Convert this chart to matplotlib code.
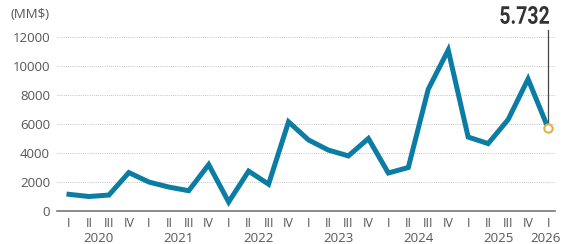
import matplotlib.pyplot as plt
import matplotlib.transforms as mtransforms
from matplotlib.textpath import TextPath
from matplotlib.patches import PathPatch
from matplotlib.font_manager import FontProperties

quarters = ['I', 'II', 'III', 'IV'] * 6 + ['I']
years = ['2020', '2021', '2022', '2023', '2024', '2025', '2026']
values = [1150, 1000, 1100, 2650,
          2000, 1650, 1400, 3200,
          620, 2750, 1850, 6150,
          4900, 4200, 3800, 5000,
          2620, 3000, 8400, 11100,
          5100, 4650, 6300, 9100,
          5732]
last_label = '5.732'

line_color = '#0b7ca3'
text_color = '#555555'

plt.rcParams['font.family'] = ['Open Sans', 'DejaVu Sans']

fig = plt.figure(figsize=(5.62, 2.44), dpi=100)
ax = fig.add_axes([57 / 562, 1 - 211 / 244, (555 - 57) / 562, (211 - 37) / 244])

x = list(range(len(values)))
ax.plot(x, values, color=line_color, lw=3.6, solid_joinstyle='miter', zorder=3, clip_on=False)
ax.plot(x[-1], values[-1], 'o', ms=6, mfc='white', mec='#e3b23c', mew=1.5, zorder=4, clip_on=False)

ax.set_xlim(-0.6, 24.35)
ax.set_ylim(0, 12000)
ax.set_yticks(range(0, 12001, 2000))
ax.set_yticklabels([str(v) for v in range(0, 12001, 2000)], color=text_color, fontsize=9.5)
for v in range(2000, 12001, 2000):
    ax.axhline(v, color='#c4c4c4', lw=0.7, ls=(0, (1, 1.2)), zorder=1)

ax.set_xticks(x)
ax.set_xticklabels(quarters, color=text_color, fontsize=9)
ax.tick_params(length=0, pad=5)
ax.tick_params(axis='x', pad=4)

for s in ['top', 'right', 'left']:
    ax.spines[s].set_visible(False)
ax.spines['bottom'].set_color('#777777')
ax.spines['bottom'].set_linewidth(1.2)

trans = mtransforms.blended_transform_factory(ax.transData, fig.transFigure)
for i, yr in enumerate(years):
    xc = i * 4 + 1.5 if i < 6 else 23.85
    ax.text(xc, 1 - 238 / 244, yr, transform=trans, ha='center', va='center',
            color=text_color, fontsize=9.5)

fig.text(10 / 562, 1 - 14 / 244, '(MM$)', color=text_color, fontsize=9.5, va='center')

# callout for last value
ax.plot([x[-1], x[-1]], [values[-1] + 250, 12500], color='#444444', lw=0.9, clip_on=False, zorder=2)

# condensed bold number, drawn as a path squeezed horizontally
tp = TextPath((0, 0), last_label, size=25, prop=FontProperties(family='Roboto', weight='bold'))
ext = tp.get_extents()
sx, sy = 0.78, 18 / ext.height
x_right = ax.transData.transform((x[-1], 0))[0] + 1
tr = (mtransforms.Affine2D().translate(-ext.x1, -ext.y0).scale(sx, sy)
      .translate(x_right, 244 - 24))
fig.patches.append(PathPatch(tr.transform_path(tp), facecolor='#333333', lw=0,
                             transform=mtransforms.IdentityTransform(), figure=fig))

fig.savefig('out.png', dpi=100)
